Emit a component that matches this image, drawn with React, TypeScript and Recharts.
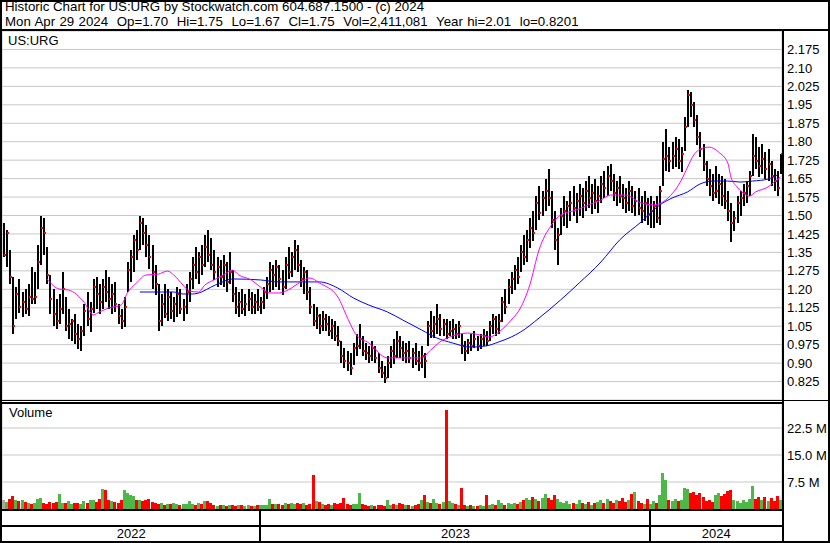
import React from 'react';
import { ComposedChart, Bar, Line, XAxis, YAxis, CartesianGrid } from 'recharts';

const FONT = '"Liberation Sans", Arial, sans-serif';

// Two-trading-day OHLC bars, May 2022 -> Apr 29 2024
const highs = [
  1.47,1.44,1.36,1.25,1.21,1.24,1.19,1.20,1.22,1.29,
  1.27,1.38,1.50,1.49,1.37,1.26,1.20,1.16,1.18,1.27,
  1.17,1.12,1.08,1.10,1.06,1.05,1.14,1.19,1.15,1.24,
  1.25,1.22,1.24,1.28,1.25,1.22,1.23,1.14,1.12,1.17,
  1.31,1.36,1.42,1.44,1.50,1.49,1.46,1.42,1.38,1.30,
  1.22,1.18,1.22,1.20,1.19,1.17,1.21,1.20,1.16,1.22,
  1.27,1.33,1.37,1.35,1.38,1.42,1.44,1.41,1.36,1.33,
  1.32,1.34,1.31,1.35,1.28,1.21,1.19,1.20,1.18,1.20,
  1.19,1.18,1.20,1.17,1.21,1.25,1.31,1.30,1.32,1.30,
  1.28,1.33,1.37,1.35,1.40,1.38,1.32,1.29,1.28,1.21,
  1.14,1.13,1.10,1.11,1.10,1.09,1.08,1.07,1.05,0.99,
  0.96,0.95,0.94,0.98,1.02,1.06,1.01,0.98,0.97,0.99,
  0.97,0.94,0.91,0.89,0.93,0.97,1.00,1.03,1.01,0.99,
  0.98,0.99,0.96,0.98,0.95,0.97,0.94,1.07,1.11,1.09,
  1.14,1.10,1.08,1.08,1.07,1.08,1.06,1.07,1.02,0.99,
  1.00,1.02,1.03,1.01,1.02,1.04,1.03,1.07,1.10,1.09,
  1.10,1.17,1.20,1.24,1.27,1.30,1.33,1.38,1.42,1.44,
  1.49,1.52,1.58,1.62,1.60,1.65,1.69,1.60,1.52,1.45,
  1.53,1.58,1.56,1.60,1.62,1.59,1.63,1.61,1.64,1.66,
  1.63,1.65,1.62,1.66,1.68,1.70,1.71,1.67,1.64,1.66,
  1.63,1.61,1.64,1.62,1.60,1.61,1.58,1.60,1.57,1.58,
  1.56,1.58,1.62,1.80,1.85,1.78,1.80,1.82,1.81,1.78,
  1.90,2.01,2.00,1.96,1.91,1.84,1.79,1.72,1.69,1.67,
  1.70,1.67,1.66,1.65,1.60,1.55,1.52,1.58,1.60,1.63,
  1.64,1.68,1.83,1.82,1.78,1.79,1.76,1.77,1.72,1.69,1.68,1.75,
];
const lows = [
  1.33,1.29,1.22,1.02,1.08,1.10,1.09,1.10,1.09,1.14,
  1.14,1.20,1.30,1.34,1.22,1.10,1.05,1.04,1.06,1.10,
  1.03,1.00,0.99,0.98,0.96,0.95,1.01,1.05,1.03,1.10,
  1.12,1.10,1.12,1.15,1.12,1.10,1.11,1.06,1.04,1.05,
  1.19,1.23,1.27,1.32,1.36,1.38,1.33,1.28,1.20,1.18,
  1.03,1.05,1.08,1.07,1.08,1.07,1.09,1.10,1.07,1.10,
  1.15,1.20,1.24,1.22,1.26,1.29,1.31,1.28,1.24,1.21,
  1.22,1.21,1.19,1.22,1.15,1.10,1.09,1.10,1.09,1.11,
  1.10,1.10,1.11,1.10,1.12,1.16,1.19,1.20,1.21,1.20,
  1.18,1.20,1.24,1.25,1.28,1.27,1.21,1.18,1.16,1.10,
  1.05,1.04,1.02,1.03,1.03,1.01,1.00,0.99,0.97,0.90,
  0.88,0.87,0.85,0.89,0.93,0.96,0.93,0.91,0.90,0.91,
  0.90,0.86,0.84,0.82,0.84,0.88,0.90,0.92,0.92,0.91,
  0.90,0.90,0.88,0.89,0.87,0.88,0.84,0.97,1.00,1.00,
  1.02,1.01,1.01,1.00,1.01,1.00,1.00,1.00,0.94,0.91,
  0.94,0.95,0.96,0.95,0.96,0.97,0.97,0.99,1.02,1.01,
  1.02,1.07,1.10,1.14,1.18,1.20,1.22,1.27,1.30,1.31,
  1.37,1.40,1.44,1.48,1.50,1.52,1.54,1.45,1.36,1.30,
  1.42,1.46,1.45,1.48,1.50,1.47,1.50,1.49,1.52,1.53,
  1.51,1.53,1.51,1.55,1.57,1.58,1.60,1.56,1.54,1.55,
  1.53,1.51,1.52,1.51,1.50,1.50,1.47,1.48,1.46,1.45,
  1.45,1.47,1.46,1.62,1.68,1.68,1.69,1.70,1.69,1.68,
  1.76,1.86,1.90,1.86,1.79,1.74,1.68,1.62,1.58,1.56,
  1.57,1.55,1.54,1.53,1.48,1.39,1.44,1.47,1.50,1.54,
  1.55,1.58,1.66,1.69,1.66,1.67,1.65,1.64,1.62,1.60,1.58,1.67,
];
const closes = [
  1.34,1.43,1.25,1.05,1.18,1.13,1.15,1.12,1.17,1.16,
  1.17,1.31,1.45,1.43,1.26,1.16,1.10,1.07,1.12,1.20,
  1.05,1.06,1.07,1.02,1.00,1.03,1.11,1.08,1.12,1.21,
  1.18,1.15,1.21,1.19,1.16,1.18,1.14,1.09,1.07,1.13,
  1.28,1.33,1.40,1.36,1.47,1.43,1.38,1.33,1.27,1.22,
  1.07,1.14,1.10,1.17,1.11,1.14,1.18,1.12,1.13,1.19,
  1.24,1.30,1.27,1.33,1.30,1.37,1.34,1.30,1.27,1.29,
  1.25,1.30,1.23,1.27,1.18,1.13,1.15,1.12,1.14,1.16,
  1.13,1.15,1.13,1.15,1.19,1.22,1.28,1.26,1.29,1.24,
  1.21,1.30,1.27,1.33,1.36,1.30,1.24,1.27,1.19,1.13,
  1.07,1.09,1.05,1.08,1.06,1.03,1.05,1.01,0.99,0.93,
  0.91,0.90,0.88,0.96,0.97,1.00,0.95,0.94,0.93,0.96,
  0.92,0.88,0.86,0.84,0.90,0.95,0.93,0.99,0.96,0.94,
  0.95,0.92,0.94,0.91,0.90,0.93,0.91,1.05,1.03,1.06,
  1.08,1.04,1.06,1.02,1.03,1.04,1.02,1.05,0.97,0.95,
  0.98,0.97,1.00,0.97,1.00,1.01,0.99,1.05,1.08,1.04,
  1.07,1.15,1.13,1.21,1.24,1.28,1.25,1.35,1.33,1.40,
  1.45,1.43,1.55,1.51,1.57,1.60,1.57,1.48,1.40,1.42,
  1.50,1.52,1.54,1.55,1.53,1.56,1.58,1.55,1.60,1.57,
  1.59,1.56,1.58,1.63,1.61,1.66,1.64,1.59,1.61,1.58,
  1.57,1.55,1.60,1.54,1.56,1.53,1.52,1.55,1.50,1.52,
  1.54,1.49,1.60,1.73,1.74,1.72,1.74,1.77,1.72,1.75,
  1.86,1.99,1.95,1.89,1.82,1.77,1.71,1.65,1.62,1.59,
  1.60,1.63,1.58,1.56,1.52,1.47,1.49,1.55,1.57,1.59,
  1.62,1.66,1.74,1.72,1.70,1.73,1.69,1.71,1.66,1.64,1.61,1.75,
];
// volume in millions of shares
const volumes = [
  2.5,2.0,2.8,3.6,2.6,2.2,2.4,2.0,1.6,1.5,
  1.7,2.9,3.0,1.8,1.5,1.9,1.6,2.0,4.2,1.8,
  1.6,2.2,1.5,1.7,1.8,1.4,2.1,1.6,2.4,2.6,
  2.0,2.8,5.6,5.2,2.5,2.2,2.0,1.8,2.4,5.3,
  4.4,4.0,3.6,2.5,2.6,2.2,2.4,2.8,1.9,1.6,
  1.4,1.7,1.2,1.5,1.3,1.6,1.4,1.2,1.5,1.3,
  2.3,1.5,1.2,1.6,1.4,2.3,2.1,1.6,1.1,0.8,
  1.0,1.2,0.9,1.1,1.0,0.8,1.2,1.0,0.9,1.1,
  0.7,0.9,1.2,1.0,1.1,1.2,2.9,1.4,1.3,1.5,
  1.2,1.6,1.4,1.7,1.5,1.8,1.3,1.6,1.2,1.4,
  9.4,2.3,2.0,1.4,1.2,1.5,1.1,1.6,1.3,1.8,
  3.0,1.4,1.1,1.3,1.5,4.5,1.4,1.0,0.9,1.1,
  0.8,1.0,1.2,0.9,2.5,1.2,1.4,1.0,1.6,1.3,
  1.1,1.0,0.9,1.2,1.4,2.4,3.8,2.0,1.6,2.8,
  1.8,1.3,1.9,27.5,2.3,1.6,1.3,1.2,5.8,1.0,
  0.9,1.0,0.8,0.9,1.1,0.8,4.0,1.2,1.4,1.0,
  2.4,1.6,1.2,1.8,1.3,1.7,1.5,2.0,2.6,3.0,
  2.4,3.3,2.8,2.2,3.1,4.2,3.0,2.5,3.8,2.7,
  2.0,1.6,2.2,1.4,1.8,1.5,2.4,1.7,1.3,1.9,
  1.2,1.6,2.0,2.6,1.8,2.9,2.2,1.6,2.4,2.1,
  3.0,1.9,2.6,4.3,4.6,2.2,1.8,1.4,2.8,1.5,
  2.3,1.7,4.0,10.0,8.0,2.6,2.3,2.8,2.1,2.5,
  5.8,5.6,4.4,4.8,4.0,4.5,3.2,2.2,2.6,2.0,
  3.8,4.4,3.6,4.2,4.9,5.2,2.6,2.2,1.8,2.4,
  2.0,2.8,6.4,2.9,3.2,2.6,3.4,2.3,3.0,2.2,3.6,2.4,
];

// moving averages (bar index, value)
const fastAvgIdx = [14,18,21,26,29,31,34,38,40,43,46,50,53,55,58,60,63,65,68,71,74,76,80,83,86,89,93,96,99,102,108,111,114,118,124,128,135,138,141,145,150,154,157,160,164,167,170,173,177,180,185,189,193,196,201,206,210,215,219,221,223,226,228,231,234,235,237,240,241,243,247,249,251];
const fastAvgVal = [1.242,1.201,1.197,1.148,1.096,1.108,1.124,1.136,1.185,1.226,1.258,1.262,1.274,1.258,1.217,1.193,1.189,1.217,1.238,1.258,1.278,1.258,1.238,1.209,1.185,1.185,1.205,1.230,1.246,1.226,1.169,1.087,1.014,0.982,0.921,0.921,0.921,0.953,0.986,1.010,1.022,1.014,1.006,1.026,1.075,1.124,1.217,1.360,1.461,1.502,1.522,1.543,1.563,1.583,1.583,1.551,1.543,1.575,1.644,1.697,1.746,1.774,1.778,1.758,1.713,1.656,1.616,1.583,1.579,1.596,1.616,1.636,1.656];
const slowAvgIdx = [44,47,52,55,58,61,64,67,70,74,83,89,96,102,108,113,118,124,129,135,140,145,151,156,160,164,167,173,180,186,193,199,206,212,216,221,225,229,234,238,242,247,250];
const slowAvgVal = [1.189,1.189,1.189,1.189,1.181,1.181,1.189,1.209,1.226,1.242,1.238,1.230,1.230,1.230,1.205,1.165,1.136,1.108,1.075,1.035,1.002,0.982,0.965,0.970,0.986,1.006,1.026,1.083,1.157,1.226,1.311,1.400,1.474,1.543,1.571,1.596,1.628,1.640,1.640,1.636,1.640,1.648,1.665];

// first bar of each month (gridlines) and of each year
const monthStarts = [10,20,31,42,52,63,73,83,94,104,115,125,135,146,156,167,178,189,199,209,220,231,241];
const yearStarts = [83, 209];
const yearLabels = ['2022', '2023', '2024'];

const priceTicks = [0.825,0.9,0.975,1.05,1.125,1.2,1.275,1.35,1.425,1.5,1.575,1.65,1.725,1.8,1.875,1.95,2.025,2.1,2.175];
const priceTickLabels = ['0.825','0.90','0.975','1.05','1.125','1.20','1.275','1.35','1.425','1.50','1.575','1.65','1.725','1.80','1.875','1.95','2.025','2.10','2.175'];
const volTicks = [7.5, 15, 22.5];
const volTickLabels = ['7.5 M', '15.0 M', '22.5 M'];

const headerLine1 = 'Historic Chart for US:URG by Stockwatch.com 604.687.1500 - (c) 2024';
const headerLine2 = 'Mon Apr 29 2024  Op=1.70  Hi=1.75  Lo=1.67  Cl=1.75  Vol=2,411,081  Year hi=2.01  lo=0.8201';

const N = highs.length;
const xDomain = [-0.5, N - 0.5];

const rows: any[] = highs.map((h, i) => ({
  i,
  h,
  l: lows[i],
  c: closes[i],
  hl: [lows[i], h],
  vol: volumes[i],
  dir: i === 0 ? 0 : Math.sign(Math.round((closes[i] - closes[i - 1]) * 1000)),
  fast: null,
  slow: null,
}));
fastAvgIdx.forEach((k, j) => { rows[k].fast = fastAvgVal[j]; });
slowAvgIdx.forEach((k, j) => { rows[k].slow = slowAvgVal[j]; });

const yearBounds = [xDomain[0], ...yearStarts, xDomain[1]];
const yearCenters = yearLabels.map((_, k) => (yearBounds[k] + yearBounds[k + 1]) / 2);
const yearAxisTicks = [...yearCenters, ...yearStarts].sort((a, b) => a - b);

const PriceBar = (props: any) => {
  const { x, y, width, height, payload } = props;
  if (x == null || payload == null) return null;
  const cx = Math.round(x + width / 2);
  const top = Math.min(y, y + height);
  const hh = Math.abs(height);
  const span = payload.h - payload.l;
  const cy = span > 0 ? top + (hh * (payload.h - payload.c)) / span : top;
  return (
    <g>
      <rect x={cx - 1} y={Math.round(top)} width={2} height={Math.max(1, Math.round(hh))} fill="#000" />
      <rect x={cx} y={Math.round(cy) - 1} width={2} height={2} fill="#ff0000" />
    </g>
  );
};

const VolBar = (props: any) => {
  const { x, y, width, height, payload } = props;
  if (x == null || payload == null) return null;
  const fill = payload.dir > 0 ? '#4db848' : payload.dir < 0 ? '#ff0000' : '#a8a8a8';
  const x0 = Math.round(x);
  const w = Math.max(1, Math.round(x + width) - x0);
  return <rect x={x0} y={Math.round(y)} width={w} height={Math.max(0, Math.round(height))} fill={fill} />;
};

const YearTick = (props: any) => {
  const { x, y, payload } = props;
  const v = payload.value;
  const yi = yearStarts.indexOf(v);
  if (yi >= 0) {
    return <rect x={Math.round(x) - 1} y={y} width={2} height={32} fill="#000" />;
  }
  const ci = yearCenters.indexOf(v);
  return (
    <text x={x} y={y + 29} textAnchor="middle" fontSize={13} fontFamily={FONT} fill="#000">
      {yearLabels[ci]}
    </text>
  );
};

const lbl = (left: number, top: number, text: string, extra: any = {}) => (
  <div style={{ position: 'absolute', left, top, fontSize: 13, lineHeight: '15px', whiteSpace: 'pre', fontFamily: FONT, color: '#000', ...extra }}>{text}</div>
);

const blk = (left: number, top: number, width: number, height: number) => (
  <div style={{ position: 'absolute', left, top, width, height, background: '#000' }} />
);

export default function App() {
  return (
    <div style={{ position: 'absolute', left: 0, top: 0, width: 830, height: 543, background: '#fff', overflow: 'hidden', fontFamily: FONT }}>
      {lbl(5, -1, headerLine1, { fontSize: 13.3 })}
      {lbl(5, 14, headerLine2, { fontSize: 13.3, wordSpacing: '0.6px' })}

      <div style={{ position: 'absolute', left: 0, top: 31 }}>
        <ComposedChart width={830} height={369} data={rows} margin={{ top: 0, right: 0, bottom: 0, left: 2 }}>
          <CartesianGrid stroke="#c8c8c8" />
          <XAxis type="number" dataKey="i" domain={xDomain} ticks={monthStarts} interval={0} height={0} tick={false} axisLine={false} tickLine={false} allowDataOverflow />
          <YAxis orientation="right" width={48} domain={[0.75, 2.25]} ticks={priceTicks} interval={0} allowDataOverflow
            tickFormatter={(v: number) => priceTickLabels[priceTicks.indexOf(v)]}
            axisLine={false} tickLine={false} tickSize={3} tickMargin={2}
            tick={{ fontSize: 13, fill: '#000', fontFamily: FONT }} />
          <Bar dataKey="hl" barSize={2} shape={PriceBar} isAnimationActive={false} />
          <Line dataKey="slow" type="monotone" stroke="#0000ff" strokeWidth={1} dot={false} connectNulls isAnimationActive={false} />
          <Line dataKey="fast" type="monotone" stroke="#ff00ff" strokeWidth={1} dot={false} connectNulls isAnimationActive={false} />
        </ComposedChart>
      </div>

      <div style={{ position: 'absolute', left: 0, top: 403 }}>
        <ComposedChart width={830} height={139} data={rows} margin={{ top: 0, right: 0, bottom: 0, left: 2 }}>
          <CartesianGrid stroke="#c8c8c8" xAxisId="m" />
          <XAxis xAxisId="m" type="number" dataKey="i" domain={xDomain} ticks={monthStarts} interval={0} height={0} tick={false} axisLine={false} tickLine={false} allowDataOverflow />
          <XAxis xAxisId="y" type="number" dataKey="i" domain={xDomain} ticks={yearAxisTicks} interval={0} height={33}
            axisLine={false} tickLine={false} tickSize={0} tickMargin={0} allowDataOverflow
            tick={(p: any) => <YearTick {...p} />} />
          <YAxis orientation="right" width={48} domain={[0, 29.44]} ticks={volTicks} interval={0} allowDataOverflow
            tickFormatter={(v: number) => volTickLabels[volTicks.indexOf(v)]}
            axisLine={false} tickLine={false} tickSize={3} tickMargin={2}
            tick={{ fontSize: 13, fill: '#000', fontFamily: FONT }} />
          <Bar xAxisId="m" dataKey="vol" barSize={3} shape={VolBar} isAnimationActive={false} />
        </ComposedChart>
      </div>

      {lbl(8, 33, 'US:URG')}
      {lbl(9, 405, 'Volume')}

      {blk(0, 0, 830, 2)}
      {blk(0, 29, 830, 2)}
      {blk(0, 0, 2, 543)}
      {blk(828, 0, 2, 543)}
      {blk(0, 541, 830, 2)}
      {blk(782, 29, 2, 514)}
      {blk(0, 400, 830, 1)}
      {blk(0, 402, 784, 2)}
      {blk(0, 509, 784, 2)}
      {blk(0, 525, 784, 2)}
    </div>
  );
}
